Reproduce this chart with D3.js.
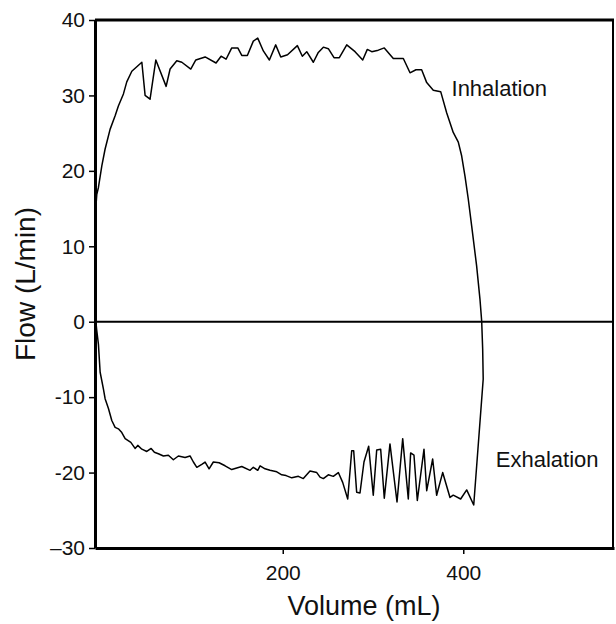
<!DOCTYPE html>
<html>
<head>
<meta charset="utf-8">
<script src="https://cdn.jsdelivr.net/npm/d3@7"></script>
<style>
    body { margin: 0; background: #fff; }
    svg { font-family: "Liberation Sans", Arial, sans-serif; }
</style>
</head>
<body>
<svg id="drawing_region"></svg>
<script>
// flow-volume loop (inhalation on top, exhalation below)
const volume = [
    -7.0, -7.5, -7.6, -6.0, -4.2, -0.4, 3.2, 5.1, 8.7, 14.3, 17.9, 23.5, 27.2, 32.8, 43.9, 47.5, 53.0, 59.4,
    70.8, 75.2, 82.6, 88.2, 98.1, 103.7, 114.0, 126.1, 131.7, 137.2, 143.5, 150.2, 154.6, 160.8, 167.4, 172.3,
    178.5, 185.2, 192.2, 197.8, 205.3, 216.2, 221.7, 226.6, 233.9, 239.4, 245.0, 250.5, 256.8, 262.7, 270.9,
    280.1, 288.6, 293.7, 298.6, 305.9, 312.5, 322.5, 333.6, 341.0, 347.6, 353.9, 359.5, 366.8, 375.0, 381.6,
    388.9, 394.5, 398.2, 401.9, 405.5, 409.3, 414.8, 418.5, 420.4, 421.5, 422.1, 411.6,
    403.8, 397.1, 388.9, 385.3, 377.2, 370.5, 366.1, 359.5, 356.5, 349.1, 345.4, 341.7, 339.1, 332.9, 326.6,
    318.8, 312.5, 308.5, 304.1, 300.3, 295.2, 290.0, 285.6, 281.9, 278.6, 276.4, 272.0, 266.4, 261.6, 256.0,
    250.5, 245.0, 241.3, 237.7, 230.2, 222.8, 217.3, 210.0, 203.7, 198.9, 193.4, 185.9, 180.4, 174.9, 172.3,
    167.4, 163.8, 154.6, 143.5, 136.1, 129.5, 123.1, 118.4, 114.0, 110.3, 104.8, 101.0, 97.3, 91.8, 84.4,
    78.8, 73.3, 67.8, 62.2, 57.8, 54.2, 49.4, 43.9, 39.4, 36.4, 31.7, 25.4, 21.7, 17.9, 14.3, 10.6, 6.9,
    3.2, 1.3, -2.3, -4.2, -6.2, -7.0
];
const flow = [
    0.0, 7.0, 14.3, 16.9, 17.8, 20.7, 22.9, 23.8, 25.5, 27.3, 28.6, 30.2, 31.8, 33.2, 34.4, 30.0, 29.5, 34.7,
    31.2, 33.5, 34.6, 34.4, 33.5, 34.7, 35.1, 34.3, 35.2, 34.8, 36.3, 36.3, 35.3, 35.3, 37.2, 37.6,
    35.9, 34.7, 36.7, 35.1, 35.4, 36.6, 35.2, 35.8, 34.4, 35.7, 36.4, 36.2, 35.0, 35.0, 36.7,
    35.8, 34.7, 36.1, 35.8, 36.0, 36.3, 34.9, 34.9, 33.0, 33.4, 33.4, 31.7, 30.7, 30.5, 27.7,
    25.1, 23.8, 22.0, 19.3, 16.3, 12.7, 7.4, 3.0, 0.1, -3.6, -7.6, -24.3,
    -22.3, -23.5, -23.0, -23.3, -20.0, -23.0, -18.2, -22.4, -16.9, -23.7, -17.7, -17.4, -23.5, -15.5, -23.9,
    -16.2, -23.4, -16.9, -17.0, -23.0, -16.5, -18.6, -22.7, -22.6, -17.1, -17.1, -23.5, -21.3, -20.0, -20.5,
    -20.3, -20.8, -20.6, -20.0, -19.8, -20.8, -20.5, -20.7, -20.4, -20.3, -19.9, -19.7, -19.5, -19.1, -19.7,
    -19.3, -19.7, -19.2, -19.6, -19.1, -18.7, -18.6, -19.5, -18.6, -18.9, -19.3, -18.6, -17.8, -18.0, -17.8,
    -18.3, -17.7, -17.8, -17.5, -17.3, -16.8, -17.2, -16.9, -16.4, -16.8, -16.0, -15.5, -14.7, -14.2, -14.0, -13.1, -11.5,
    -10.2, -8.9, -6.7, -3.0, -1.0, 0.0
];

const x_ticks = [200, 400];
const y_ticks = [-30, -20, -10, 0, 10, 20, 30, 40];
const y_tick_labels = ["\u201330", "-20", "-10", "0", "10", "20", "30", "40"];

const annotations = [
    { text: "Inhalation", v: 387, f: 29.9 },
    { text: "Exhalation", v: 436, f: -19.2 }
];

const config = {
    width: 616,
    height: 624,
    margin: { top: 20, right: 2, bottom: 76, left: 95 }
};

const data = volume.map((v, i) => ({ v: v, f: flow[i] }));

const svg = d3.select("#drawing_region")
    .attr("width", config.width)
    .attr("height", config.height);

const inner_width = config.width - config.margin.left - config.margin.right;
const inner_height = config.height - config.margin.top - config.margin.bottom;

const chart = svg.append("g")
    .attr("transform", `translate(${config.margin.left}, ${config.margin.top})`);

const xscale = d3.scaleLinear().domain([-8, 567]).range([0, inner_width]);
const yscale = d3.scaleLinear().domain([-30, 40]).range([inner_height, 0]);

// frame top / right
chart.append("line")
    .attr("x1", 0).attr("x2", inner_width).attr("y1", 0).attr("y2", 0)
    .attr("stroke", "#000").attr("stroke-width", 3);
chart.append("line")
    .attr("x1", inner_width - 1).attr("x2", inner_width - 1).attr("y1", 0).attr("y2", inner_height)
    .attr("stroke", "#000").attr("stroke-width", 2);

// zero line
chart.append("line")
    .attr("x1", 0).attr("x2", inner_width)
    .attr("y1", yscale(0)).attr("y2", yscale(0))
    .attr("stroke", "#000").attr("stroke-width", 2);

const xaxis = d3.axisBottom(xscale)
    .tickValues(x_ticks)
    .tickSize(6)
    .tickSizeOuter(0)
    .tickPadding(11);

const yaxis = d3.axisLeft(yscale)
    .tickValues(y_ticks)
    .tickFormat((d, i) => y_tick_labels[i])
    .tickSize(6)
    .tickSizeOuter(0)
    .tickPadding(4);

const xaxis_group = chart.append("g")
    .attr("transform", `translate(0, ${inner_height})`)
    .call(xaxis);

const yaxis_group = chart.append("g")
    .call(yaxis);

[xaxis_group, yaxis_group].forEach(g => {
    g.select(".domain").attr("stroke-width", 3);
    g.selectAll(".tick line").attr("stroke-width", 1.5);
    g.selectAll(".tick text")
        .attr("fill", "#111")
        .style("font-size", "21px")
        .style("font-family", "'Liberation Sans', Arial, sans-serif");
});

// loop
const line = d3.line()
    .x(d => xscale(d.v))
    .y(d => yscale(d.f));

chart.append("path")
    .datum(data)
    .attr("d", line)
    .attr("fill", "none")
    .attr("stroke", "#000")
    .attr("stroke-width", 1.5)
    .attr("stroke-linejoin", "round");

chart.selectAll(".note")
    .data(annotations)
    .enter()
    .append("text")
    .attr("class", "note")
    .attr("x", d => xscale(d.v))
    .attr("y", d => yscale(d.f))
    .attr("fill", "#111")
    .style("font-size", "22px")
    .text(d => d.text);

// axis titles
svg.append("text")
    .attr("x", 364)
    .attr("y", 615)
    .attr("text-anchor", "middle")
    .attr("fill", "#111")
    .style("font-size", "27px")
    .text("Volume (mL)");

svg.append("text")
    .attr("transform", `translate(35, ${config.margin.top + inner_height / 2}) rotate(-90)`)
    .attr("text-anchor", "middle")
    .attr("fill", "#111")
    .style("font-size", "28px")
    .text("Flow (L/min)");
</script>
</body>
</html>
